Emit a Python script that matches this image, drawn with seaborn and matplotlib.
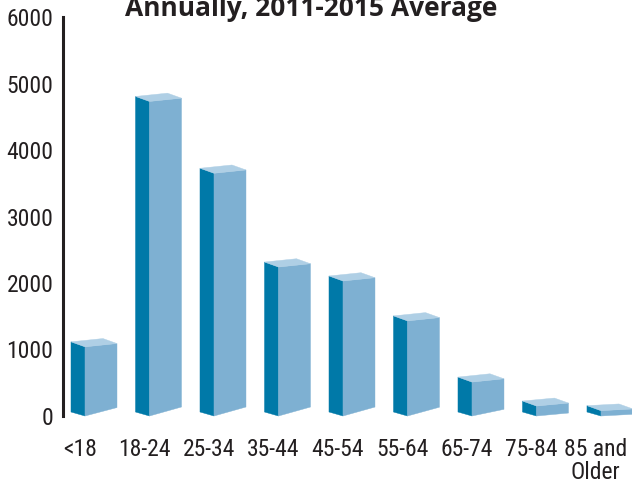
import numpy as np
import pandas as pd
import matplotlib
matplotlib.use("Agg")
import matplotlib.pyplot as plt
import seaborn as sns
from matplotlib import font_manager
from matplotlib.patches import Polygon
from matplotlib.transforms import IdentityTransform

# ---- data ----
categories = ["<18", "18-24", "25-34", "35-44", "45-54", "55-64", "65-74", "75-84", "85 and\nOlder"]
values = [1040, 4730, 3650, 2240, 2030, 1430, 510, 150, 80]
title = "Annually, 2011-2015 Average"
yticks = [0, 1000, 2000, 3000, 4000, 5000, 6000]

# ---- style ----
dark = "#0079A8"
front = "#7EB0D2"
top = "#AFCFE5"
ink = "#231F20"

sns.set_theme(style="white")

# choose a narrow font if one is installed
names = {f.name for f in font_manager.fontManager.ttflist}
label_font, label_size, label_stretch = "Liberation Sans", 15, "normal"
for cand in ["Liberation Sans Narrow", "DejaVu Sans Condensed", "Roboto Condensed",
             "Open Sans Condensed", "Noto Sans Condensed"]:
    if cand in names:
        label_font, label_size = cand, 17
        break
else:
    cond = [f for f in font_manager.fontManager.ttflist
            if f.name == "DejaVu Sans" and str(f.stretch) in ("condensed", "semi-condensed", "75", "87.5")
            and f.weight in (400, "normal", "regular")]
    if cond:
        label_font, label_size, label_stretch = "DejaVu Sans", 16, "condensed"
plt.rcParams["font.family"] = [label_font, "DejaVu Sans"]
plt.rcParams["font.stretch"] = label_stretch

W, H = 632, 482
fig = plt.figure(figsize=(W / 100, H / 100), dpi=100)
fig.patch.set_facecolor("white")
ax = fig.add_axes([63 / W, (H - 416) / H, (W - 63) / W, (416 - 17) / H])
ax.set_facecolor("none")

df = pd.DataFrame({"age": categories, "count": values})
sns.barplot(data=df, x="age", y="count", color=front, saturation=1,
            width=32 / 64.5, ax=ax, errorbar=None)
ax.set_xlim(-0.589, 8.233)
ax.set_ylim(0, 6000)
ax.autoscale(False)

# ---- fake 3D faces built from the seaborn bars ----
depth_x, depth_y = 14, 5      # side-face depth in pixels
for p in list(ax.patches):
    x0d, w, h = p.get_x(), p.get_width(), p.get_height()
    (xl, yb), (xr, yt) = ax.transData.transform([(x0d, 0), (x0d + w, h)])
    hp = yt - yb
    rb = 9 * (1 - np.exp(-hp / 25))   # bottom edge rise
    rt = min(3.3, rb)                 # top edge rise
    p.set_visible(False)
    faces = [
        ([(xl - depth_x, yb + 4), (xl, yb), (xl, yt), (xl - depth_x, yt + depth_y)], dark),
        ([(xl, yb), (xr, yb + rb), (xr, yt + rt), (xl, yt)], front),
        ([(xl - depth_x, yt + depth_y), (xl, yt), (xr, yt + rt),
          (xr - depth_x, yt + rt + depth_y)], top),
    ]
    for pts, c in faces:
        poly = Polygon(pts, closed=True, facecolor=c, edgecolor=c, linewidth=0.3,
                       transform=IdentityTransform())
        fig.add_artist(poly)

# ---- axes styling ----
for s in ["top", "right", "bottom"]:
    ax.spines[s].set_visible(False)
ax.spines["left"].set_linewidth(2.2)
ax.spines["left"].set_color(ink)
ax.set_yticks(yticks)
ax.set_yticklabels([str(v) for v in yticks])
ax.tick_params(axis="y", direction="in", length=9.4, width=1.9, color=ink,
               labelsize=label_size, labelcolor=ink, pad=7)

xpos = np.arange(len(categories)) - 0.33
ax.set_xticks(xpos)
ax.set_xticklabels(categories, linespacing=1.0)
ax.tick_params(axis="x", length=0, labelsize=label_size, labelcolor=ink, pad=16)
ax.set_xlabel("")
ax.set_ylabel("")

fig.text(311 / W, 1 - 16 / H, title, ha="center", va="baseline", fontsize=19,
         fontweight="bold", color=ink, family=["Open Sans", "DejaVu Sans"],
         stretch="normal")

fig.savefig("out.png", dpi=100)
